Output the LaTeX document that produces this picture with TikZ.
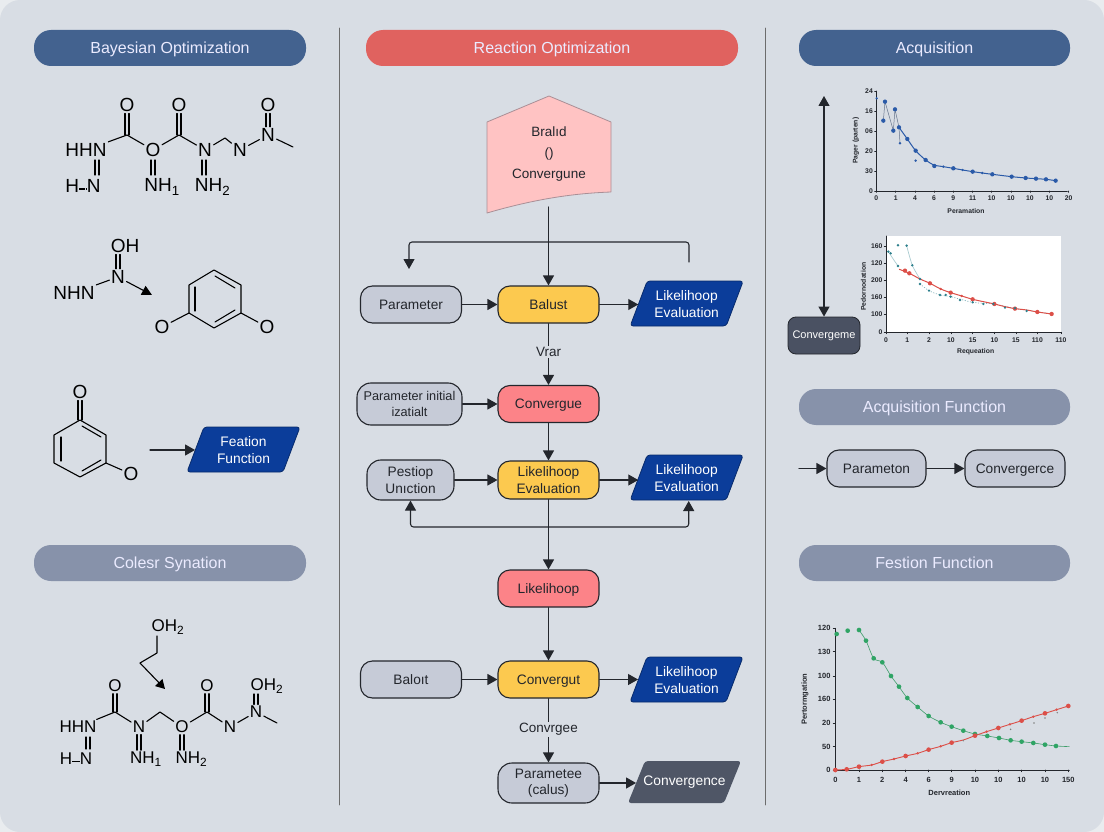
\documentclass[tikz,border=0pt]{standalone}
\usepackage{fontspec}
\setmainfont{Liberation Sans}
\usetikzlibrary{arrows.meta,positioning,calc}
\definecolor{pagebg}{HTML}{D8DDE4}
\definecolor{outerbg}{HTML}{E9ECEF}
\definecolor{hdrblue}{HTML}{43628F}
\definecolor{hdrred}{HTML}{E0625F}
\definecolor{hdrgray}{HTML}{8792AA}
\definecolor{ngray}{HTML}{C6CBD7}
\definecolor{nyellow}{HTML}{FCC94F}
\definecolor{nred}{HTML}{FC8388}
\definecolor{pblue}{HTML}{0B3D9A}
\definecolor{pdark}{HTML}{4F5666}
\definecolor{boxdark}{HTML}{4A5162}
\definecolor{ink}{HTML}{23262C}
\definecolor{penta}{HTML}{FFC3C3}
\definecolor{pentaedge}{HTML}{A98F96}
\definecolor{chblue}{HTML}{2A5AA8}
\definecolor{chred}{HTML}{DC4F48}
\definecolor{chgreen}{HTML}{2FA465}
\definecolor{chteal}{HTML}{2C7F8C}
\tikzset{
  hdr/.style={rounded corners=17pt,minimum height=36pt,text=white!92!blue,inner sep=0pt,text height=13.5pt,text depth=2pt,font=\fontsize{16}{19}\selectfont},
  flow/.style={draw=ink,line width=1.1pt,rounded corners=12pt,minimum width=101pt,minimum height=37pt,inner sep=0pt,align=center,text=ink,font=\fontsize{13.7}{16.5}\selectfont},
  oneline/.style={text height=11.7pt,text depth=2pt},
  paranode/.style={minimum width=96.5pt,minimum height=45pt,inner sep=0pt,align=center,text=white,font=\fontsize{13.8}{16.5}\selectfont},
  arr/.style={draw=ink,line width=1.1pt,-{Triangle[length=10pt,width=11pt]}},
  lbl/.style={fill=pagebg,inner sep=1.5pt,text=ink,font=\fontsize{13.5}{16}\selectfont},
  atom/.style={inner sep=1.5pt,text=black,font=\fontsize{19}{20}\selectfont},
  atoms/.style={inner sep=1.5pt,text=black,font=\fontsize{17}{18}\selectfont},
  bond/.style={draw=black,line width=1.1pt},
  axisl/.style={draw=ink,line width=.8pt},
  tick/.style={inner sep=0pt,text=ink,font=\bfseries\fontsize{6.8}{8}\selectfont},
  axt/.style={inner sep=0pt,text=ink,font=\bfseries\fontsize{6.8}{8}\selectfont},
  ticklg/.style={inner sep=0pt,text=ink,font=\bfseries\fontsize{7.5}{9}\selectfont},
}
\newcommand{\paral}[5]{%
  \path[fill=#4,draw=#4!70!black,line width=.8pt,rounded corners=3pt]
    ({#2-39.5},{#3-22.5}) -- ({#2+56.5},{#3-22.5}) -- ({#2+39.5},{#3+22.5}) -- ({#2-56.5},{#3+22.5}) -- cycle;
  \node[paranode] (#1) at (#2,#3+.8) {#5};}
\newcommand{\hdots}{\raisebox{3pt}{\rule{1.3pt}{1.2pt}\hspace{.8pt}\rule{1.3pt}{1.2pt}\hspace{.8pt}\rule{1.3pt}{1.2pt}\hspace{.8pt}\rule{1.3pt}{1.2pt}}}
\begin{document}
\begin{tikzpicture}[x=1pt,y=-1pt,line cap=round,line join=round]
\useasboundingbox (0,0) rectangle (1104,832);
\fill[outerbg] (0,0) rectangle (1104,832);
\fill[pagebg,rounded corners=20pt] (0,0) rectangle (1104,832);
% dividers
\coordinate (d1t) at (339,28); \coordinate (d1b) at (339,805);
\coordinate (d2t) at (765,28); \coordinate (d2b) at (765,805);
\draw[color=gray!85!black,line width=.9pt] (d1t) -- (d1b);
\draw[color=gray!85!black,line width=.9pt] (d2t) -- (d2b);
% headers
\node[hdr,fill=hdrblue,minimum width=272pt] (h1) at (170,48) {Bayesian Optimization};
\node[hdr,fill=hdrred,minimum width=372pt] (h2) at (552,48) {Reaction Optimization};
\node[hdr,fill=hdrblue,minimum width=271pt] (h3) at (934.5,48) {Acquisition};
\node[hdr,fill=hdrgray,minimum width=272pt] (h4) at (170,563) {Colesr Synation};
\node[hdr,fill=hdrgray,minimum width=271pt] (h5) at (934.5,407) {Acquisition Function};
\node[hdr,fill=hdrgray,minimum width=271pt] (h6) at (934.5,563) {Festion Function};

% ---- molecule 1
\node[atom] (a1) at (86,150) {HHN};
\node[atom] (a2) at (83,186) {H\hdots N};
\node[atom] (a3) at (127,105) {O};
\coordinate (a4) at (127,135);
\node[atom] (a5) at (153,150) {O};
\node[atom] (a6) at (162,187) {NH$_{\mathrm 1}$};
\node[atom] (a7) at (179,105) {O};
\coordinate (a8) at (179,135);
\node[atom] (a9) at (205,150) {N};
\node[atom] (a10) at (212.5,187) {NH$_{\mathrm 2}$};
\coordinate (a11) at (225,138);
\node[atom] (a12) at (240,150) {N};
\node[atom] (a13) at (268,135) {N};
\node[atom] (a14) at (268,105) {O};
\coordinate (a15) at (293,147);
\coordinate (a1b) at (97,160); \coordinate (a2t) at (97,175);
\coordinate (a5t) at (153,160); \coordinate (a6t) at (153,175);
\coordinate (a9t) at (204,160); \coordinate (a10t) at (204,175);
\draw[bond] (a1) -- (a4) -- (a5) -- (a8) -- (a9) -- (a11) -- (a12) -- (a13) -- (a15);
\foreach \s/\p/\q in {-2/a3/a4,2/a3/a4,-2/a7/a8,2/a7/a8,-2/a14/a13,2/a14/a13,-2/a1b/a2t,2/a1b/a2t,-2/a5t/a6t,2/a5t/a6t,-2/a9t/a10t,2/a9t/a10t}
  \draw[bond,transform canvas={xshift=\s pt}] (\p) -- (\q);

% ---- molecule 2
\node[atom] (b1) at (125,246) {OH};
\node[atom] (b2) at (118,277) {N};
\node[atom] (b3) at (74,293) {NHN};
\coordinate (b4) at (152,295);
\draw[bond] (b3) -- (b2);
\draw[bond,-{Triangle[length=10pt,width=10pt]}] (b2) -- (b4);
\foreach \s in {-2,2}
  \draw[bond,transform canvas={xshift=\s pt}] (b1.south -| b2) -- (b2.north);
\coordinate (r1) at (214,270); \coordinate (r2) at (241,285); \coordinate (r3) at (241,313);
\coordinate (r4) at (214,328); \coordinate (r5) at (189,313); \coordinate (r6) at (189,285);
\draw[bond] (r1) -- (r2) -- (r3) -- (r4) -- (r5) -- (r6) -- cycle;
\coordinate (ri1) at (195,287); \coordinate (ri2) at (195,311);
\coordinate (ri3) at (215,276); \coordinate (ri4) at (235,288);
\coordinate (ri5) at (215,322); \coordinate (ri6) at (235,310);
\draw[bond] (ri1) -- (ri2); \draw[bond] (ri3) -- (ri4); \draw[bond] (ri5) -- (ri6);
\node[atom] (b5) at (162,327) {O};
\node[atom] (b6) at (267,327) {O};
\draw[bond] (b5) -- (r5); \draw[bond] (b6) -- (r3);

% ---- molecule 3
\node[atom] (c1) at (80,392) {O};
\coordinate (s1) at (80,420); \coordinate (s2) at (106,435); \coordinate (s3) at (106,463);
\coordinate (s4) at (80,477); \coordinate (s5) at (54,463); \coordinate (s6) at (54,435);
\draw[bond] (s1) -- (s2) -- (s3) -- (s4) -- (s5) -- (s6) -- cycle;
\coordinate (si1) at (61,437); \coordinate (si2) at (61,461);
\coordinate (si3) at (82,426); \coordinate (si4) at (101,437);
\coordinate (si5) at (82,471); \coordinate (si6) at (101,460);
\draw[bond] (si1) -- (si2); \draw[bond] (si3) -- (si4); \draw[bond] (si5) -- (si6);
\foreach \s in {-2,2} \draw[bond,transform canvas={xshift=\s pt}] (c1) -- (s1);
\node[atom] (c2) at (131,474) {O};
\draw[bond] (c2) -- (s3);
\paral{c4}{243.5}{449.5}{pblue}{Feation\\Function}
\coordinate (c3) at (150,450);
\draw[arr] (c3) -- (c3 -| c4.west);

% ---- molecule 4
\node[atoms] (e1) at (168,627) {OH$_{\mathrm 2}$};
\coordinate (e2) at (157,653); \coordinate (e3) at (140,663); \coordinate (e4) at (165,689);
\draw[bond,-{Triangle[length=9pt,width=10pt]}] (e1.south -| e2) -- (e2) -- (e3) -- (e4);
\node[atoms] (f1) at (78,727) {HHN};
\node[atoms] (f2) at (76,759) {H\hdots N};
\node[atoms] (f3) at (115,686) {O};
\coordinate (f4) at (115,712);
\node[atoms] (f5) at (139,727) {N};
\node[atoms] (f6) at (146,759) {NH$_{\mathrm 1}$};
\coordinate (f7) at (160,712);
\node[atoms] (f8) at (182,727) {O};
\node[atoms] (f9) at (191.5,759) {NH$_{\mathrm 2}$};
\node[atoms] (f10) at (207,686) {O};
\coordinate (f11) at (207,712);
\node[atoms] (f12) at (230,727) {N};
\node[atoms] (f13) at (256,712) {N};
\node[atoms] (f14) at (267,686) {OH$_{\mathrm 2}$};
\coordinate (f15) at (277,723);
\coordinate (f1b) at (88,737); \coordinate (f2t) at (88,749);
\draw[bond] (f1) -- (f4) -- (f5) -- (f7) -- (f8) -- (f11) -- (f12) -- (f13) -- (f15);
\foreach \s in {-2,2} {
  \draw[bond,transform canvas={xshift=\s pt}] (f3) -- (f4);
  \draw[bond,transform canvas={xshift=\s pt}] (f10) -- (f11);
  \draw[bond,transform canvas={xshift=\s pt}] ([yshift=1pt]f14.south -| f13) -- (f13);
  \draw[bond,transform canvas={xshift=\s pt}] (f1b) -- (f2t);
  \draw[bond,transform canvas={xshift=\s pt}] (f5) -- (f5 |- f6.north);
  \draw[bond,transform canvas={xshift=\s pt}] (f8) -- (f8 |- f9.north);
}

% ---- central flow
\path[fill=penta,draw=pentaedge,line width=.8pt] (549,96) -- (611,122) -- (611,192)
  .. controls (585,193) and (545,196) .. (487,213) -- (487,122) -- cycle;
\node[inner sep=0pt,align=center,text=ink,minimum width=124pt,minimum height=91pt,font=\fontsize{13.5}{21}\selectfont] (top) at (549,154) {Bralıd\\()\\Convergune};
\node[flow,oneline,fill=ngray] (n1) at (411,304.5) {Parameter};
\node[flow,oneline,fill=nyellow] (n2) at (548.5,304.5) {Balust};
\paral{n3}{686.7}{303.5}{pblue}{Likelihoop\\Evaluation}
\node[flow,fill=ngray,minimum width=105pt,minimum height=42pt,rounded corners=14pt,font=\fontsize{12.7}{15.5}\selectfont] (n4) at (409.5,404) {Parameter initial\\izatialt};
\node[flow,oneline,fill=nred] (n5) at (548.5,404) {Convergue};
\node[flow,fill=ngray,minimum width=87pt,minimum height=40pt,rounded corners=14pt] (n6) at (410.5,480) {Pestiop\\Unıction};
\node[flow,fill=nyellow,minimum height=38pt] (n7) at (548.5,480) {Likelihoop\\Evaluation};
\paral{n8}{686.7}{477.5}{pblue}{Likelihoop\\Evaluation}
\node[flow,oneline,fill=nred] (n9) at (548.5,588.5) {Likelihoop};
\node[flow,oneline,fill=ngray] (n10) at (411,679.5) {Baloıt};
\node[flow,oneline,fill=nyellow] (n11) at (548.5,679.5) {Convergut};
\paral{n12}{686.5}{679.5}{pblue}{Likelihoop\\Evaluation}
\node[flow,fill=ngray,minimum height=40pt,rounded corners=14pt] (n13) at (548.5,783) {Parametee\\(calus)};
\path[fill=pdark,rounded corners=3pt] (645,761) -- (741,761) -- (724,803) -- (628,803) -- cycle;
\node[paranode,minimum height=42pt] (n14) at (684.5,782) {Convergence};

\coordinate (t0) at (548.5,207);
\coordinate (tj) at (548.5,242);
\coordinate (tl) at (409,269);
\coordinate (tr) at (689,262);
\draw[arr] (t0) -- (n2.north);
\draw[arr,rounded corners=3pt] (tr) |- (tl |- tj) -- (tl);
\draw[arr] (n1) -- (n2);
\draw[arr] (n2) -- (n2 -| n3.west);
\draw[arr] (n2) -- node[lbl,pos=.46] (v1) {Vrar} (n5);
\draw[arr] (n4) -- (n5);
\draw[arr] (n5) -- (n7);
\draw[arr] (n6) -- (n7);
\draw[arr] (n7) -- (n7 -| n8.west);
\draw[arr] (n7) -- (n9);
\coordinate (fb) at (548.5,527);
\draw[arr,rounded corners=3pt] (fb) -| (n6.south);
\draw[arr,rounded corners=3pt] (fb) -| ([xshift=2pt]n8.south);
\draw[arr] (n9) -- (n11);
\draw[arr] (n10) -- (n11);
\draw[arr] (n11) -- (n11 -| n12.west);
\draw[arr] (n11) -- node[lbl,pos=.48] (v2) {Convrgee} (n13);
\draw[arr] (n13) -- (n13 -| n14.west);

% ---- right column boxes
\node[draw=ink,line width=.8pt,fill=boxdark,rounded corners=8pt,minimum width=72pt,minimum height=37pt,inner sep=0pt,text=white,font=\fontsize{11}{13}\selectfont] (k1) at (824,335.5) {Convergeme};
\coordinate (k0) at (824,96);
\draw[draw=ink,line width=1.1pt,{Triangle[length=10pt,width=11pt]}-{Triangle[length=10pt,width=11pt]}] (k0) -- (k1.north);
\node[flow,oneline,fill=ngray,minimum width=99pt] (m1) at (876.5,468.5) {Parameton};
\node[flow,oneline,fill=ngray,minimum width=100pt] (m2) at (1015,468.5) {Convergerce};
\coordinate (m0) at (799,468.5);
\draw[arr] (m0) -- (m1);
\draw[arr] (m1) -- (m2);

% ---- plot 1
\begin{scope}[shift={(780,80)},x=.3333pt,y=-.3333pt]
\draw[axisl] (289,33) -- (289,333) -- (862,333);
\foreach \y/\t in {33/24,93/16,153/06,213/20,273/30,333/0} {
  \draw[axisl] (284,\y) -- (289,\y);
  \node[tick,anchor=east] at (279,\y) {\t};}
\foreach \x/\t in {289/0,347/1,405/4,462/6,520/9,578/11,635/10,693/10,750/10,808/10,866/20} {
  \draw[axisl] (\x,333) -- (\x,337);
  \node[tick] at (\x,355) {\t};}
\node[axt] at (558,392) {Peramation};
\node[axt,rotate=90] at (228,182) {Pager (parten)};
\draw[color=gray!70!chblue,line width=.5pt] (310,122) -- (315,65) -- (340,152) -- (345,88) -- (357,142) -- (360,190);
\draw[color=chblue,line width=1pt] plot[smooth,tension=.5] coordinates {(357,142)(382,177)(407,212)(437,240)(462,255)(490,260)(520,265)(548,270)(578,275)(607,279)(637,283)(695,290)(737,294)(768,296)(798,298)(827,302)};
\foreach \x/\y in {310/122,315/65,340/152,345/88,357/142,382/177,407/212,437/240,463/258,520/265,578/275,637/283,695/290,737/294,768/296,798/298,827/302}
  \fill[chblue] (\x,\y) circle[radius=6.5];
\foreach \x/\y in {290/55,360/190,407/242,490/260,548/270,607/279}
  \fill[chblue] (\x,\y) circle[radius=4];
\end{scope}

% ---- plot 2
\begin{scope}[shift={(780,80)},x=.3333pt,y=-.3333pt]
\fill[white] (320,468) rectangle (842,757);
\draw[axisl] (318,468) -- (318,757) -- (842,757);
\foreach \y/\t in {500/160,550/120,601/200,652/160,703/100,757/0} {
  \draw[axisl] (313,\y) -- (318,\y);
  \node[tick,anchor=east] at (308,\y) {\t};}
\foreach \x/\t in {318/0,382/1,447/2,513/10,578/15,643/10,708/15,772/110,843/110} {
  \draw[axisl] (\x,757) -- (\x,761);
  \node[tick] at (\x,781) {\t};}
\node[axt] at (587,816) {Requeation};
\node[axt,rotate=90] at (250,620) {Pedornodation};
\draw[color=chteal!40!white,line width=.7pt] plot[smooth] coordinates {(325,515)(345,545)(354,558)};
\draw[color=chteal!40!white,line width=.7pt] plot[smooth] coordinates {(380,497)(397,556)(420,597)};
\draw[color=chteal!60!white,line width=.7pt,dotted] plot[smooth] coordinates {(420,612)(447,632)(480,645)(512,650)(578,667)(640,672)(705,685)(815,702)};
\draw[color=chred,line width=1pt] plot[smooth] coordinates {(358,568)(388,580)(420,597)(450,610)(482,627)(512,638)(545,648)(578,658)(610,665)(643,672)(675,680)(705,686)(740,690)(772,696)(815,702)};
\foreach \x/\y in {375/572,388/580,450/610,512/638,578/658,643/672,705/686,772/696,815/702}
  \fill[chred] (\x,\y) circle[radius=6.5];
\foreach \x/\y in {482/627,545/648}
  \fill[chred] (\x,\y) circle[radius=4];
\foreach \x/\y in {325/515,332/520,354/496,354/558,380/497,397/556,420/612,420/597,447/632,480/645,497/645,512/650,540/660,578/667,610/672,640/672,675/683,705/685,740/693}
  \fill[chteal] (\x,\y) circle[radius=4];
\end{scope}

% ---- plot 3
\begin{scope}[shift={(790,610)},x=.3333pt,y=-.3333pt]
\draw[axisl] (136,55) -- (136,480) -- (838,480);
\foreach \y/\t in {55/120,125/130,198/100,268/160,340/20,410/50,480/0} {
  \draw[axisl] (130,\y) -- (136,\y);
  \node[ticklg,anchor=east] at (122,\y) {\t};}
\foreach \x/\t in {136/0,207/1,277/2,347/4,416/6,485/9,555/10,625/10,695/10,765/10,835/150} {
  \draw[axisl] (\x,480) -- (\x,485);
  \node[ticklg] at (\x,511) {\t};}
\node[ticklg] at (478,550) {Dervreation};
\node[ticklg,rotate=90] at (45,268) {Pertormgation};
\draw[color=chgreen!80!gray,line width=.6pt] plot[smooth,tension=.5] coordinates {(207,60)(228,92)(251,145)(277,157)(303,198)(327,230)(352,264)(383,291)(416,318)(452,337)(485,350)(520,362)(555,372)(592,378)(627,384)(662,391)(695,395)(730,399)(765,404)(798,408)(838,410)};
\draw[color=chred,line width=.9pt] plot[smooth,tension=.5] coordinates {(136,480)(170,478)(207,470)(245,465)(277,455)(312,447)(347,438)(383,430)(416,419)(452,409)(485,398)(520,390)(555,377)(590,365)(625,354)(660,343)(695,332)(730,320)(765,310)(800,299)(835,288)};
\foreach \x/\y in {140/72,173/62,207/60,228/92,251/145,277/157,303/198,327/230,352/264,383/291,416/318,452/337,485/350,520/362,555/372,592/378,627/384,662/391,695/395,730/399,765/404,798/408}
  \fill[chgreen] (\x,\y) circle[radius=7];
\foreach \x/\y in {136/480,170/478,207/470,277/455,347/438,416/419,485/398,555/377,625/354,695/332,765/310,835/288}
  \fill[chred] (\x,\y) circle[radius=7];
\foreach \x/\y in {245/465,312/447,383/430,452/409,590/365,660/343,730/320,800/299}
  \fill[chred] (\x,\y) circle[radius=4];
\foreach \x/\y in {520/392,662/358,732/339,765/324,802/308}
  \fill[gray] (\x,\y) circle[radius=2.5];
\end{scope}
\end{tikzpicture}
\end{document}
